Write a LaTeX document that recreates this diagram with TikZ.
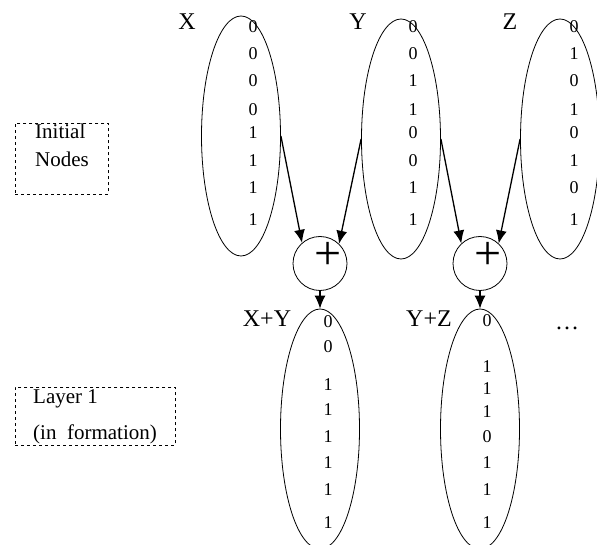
\documentclass[tikz,border=0pt]{standalone}
\usepackage{fontspec}
\setmainfont{Liberation Serif}
\usetikzlibrary{positioning,shapes,arrows.meta}

\begin{document}
\begin{tikzpicture}[x=1pt, y=-1pt,
    bitset/.style={draw, ellipse, line width=0.8pt, minimum width=79pt, minimum height=240pt, inner sep=0pt},
    addop/.style={draw, circle, line width=0.8pt, minimum size=54pt, inner sep=0pt},
    bit/.style={font=\fontsize{18}{18}\selectfont, inner sep=0pt},
    setname/.style={font=\fontsize{24}{24}\selectfont, inner sep=0pt},
    note/.style={draw, dashed, rectangle, line width=0.8pt, anchor=north west, inner sep=0pt},
    notetext/.style={font=\fontsize{21}{28}\selectfont, align=left, anchor=north west, inner sep=0pt},
    flow/.style={-{Latex[length=13pt, width=11pt]}, line width=1.3pt}]
    \useasboundingbox (0,0) rectangle (597,545);

    % initial nodes
    \node[bitset](x) at (241,136){};
    \node[bitset](y) at (401,139){};
    \node[bitset](z) at (560,139){};
    \node[setname](x-name) at (187,22){X};
    \node[setname](y-name) at (358,22){Y};
    \node[setname](z-name) at (510,22){Z};
    \foreach \i/\ypos/\bx/\by/\bz in {1/27/0/0/0, 2/54/0/0/1, 3/81/0/1/0, 4/110/0/1/1, 5/133/1/0/0, 6/161/1/0/1, 7/188/1/1/0, 8/220/1/1/1}{
        \node[bit](x-bit-\i) at (253,\ypos){\bx};
        \node[bit](y-bit-\i) at (413,\ypos){\by};
        \node[bit](z-bit-\i) at (574,\ypos){\bz};
    }

    % adders
    \node[addop, label={[font=\fontsize{48}{48}\selectfont, inner sep=0pt, xshift=8pt, yshift=8pt]center:+}](xy-op) at (320,263.5){};
    \node[addop, label={[font=\fontsize{48}{48}\selectfont, inner sep=0pt, xshift=8pt, yshift=8pt]center:+}](yz-op) at (480,263.5){};
    \draw[flow](x.east)--(xy-op.131);
    \draw[flow](y.west)--(xy-op.46);
    \draw[flow](y.east)--(yz-op.133);
    \draw[flow](z.west)--(yz-op.47);

    % layer 1
    \node[bitset](xy) at (320,429){};
    \node[bitset](yz) at (480,429){};
    \draw[flow](xy-op.south)--(xy.north);
    \draw[flow](yz-op.south)--(yz.north);
    \node[setname](xy-name) at (267,319){X+Y};
    \node[setname](yz-name) at (429,319){Y+Z};
    \node[setname, anchor=base](more) at (567,330){\dots};
    \foreach \i/\ypos/\b in {1/322/0, 2/347/0, 3/385/1, 4/410/1, 5/437/1, 6/463/1, 7/490/1, 8/523/1}{
        \node[bit](xy-bit-\i) at (328,\ypos){\b};
    }
    \foreach \i/\ypos/\b in {1/321/0, 2/367/1, 3/389/1, 4/412/1, 5/437/0, 6/463/1, 7/490/1, 8/523/1}{
        \node[bit](yz-bit-\i) at (487,\ypos){\b};
    }

    % side notes
    \node[note, minimum width=93pt, minimum height=71pt](init-box) at (15,123){};
    \node[notetext](init-text) at (35,124){Initial\\Nodes};
    \node[note, minimum width=160pt, minimum height=58pt](layer-box) at (15,387){};
    \node[notetext, font=\fontsize{21}{36}\selectfont](layer-text) at (33,389){Layer 1\\(in\ \ formation)};
\end{tikzpicture}
\end{document}
